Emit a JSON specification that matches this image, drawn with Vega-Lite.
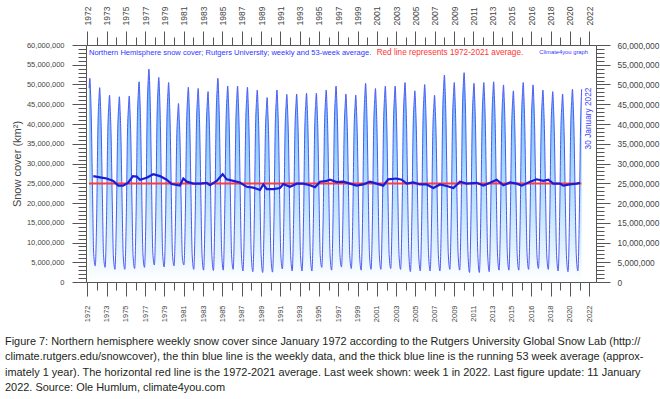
{
  "$schema": "https://vega.github.io/schema/vega-lite/v6.json",
  "autosize": {"type": "none"},
  "width": 510,
  "height": 237,
  "padding": {"left": 86, "top": 45, "right": 64, "bottom": 117},
  "background": "white",
  "title": {
    "text": [
      "Figure 7: Northern hemisphere weekly snow cover since January 1972 according to the Rutgers University Global Snow Lab (http://",
      "climate.rutgers.edu/snowcover), the thin blue line is the weekly data, and the thick blue line is the running 53 week average (approx-",
      "imately 1 year). The horizontal red line is the 1972-2021 average. Last week shown: week 1 in 2022. Last figure update: 11 January",
      "2022. Source: Ole Humlum, climate4you.com"
    ],
    "orient": "bottom",
    "anchor": "start",
    "frame": "group",
    "offset": 14,
    "dx": -81,
    "font": "Liberation Sans",
    "fontSize": 10.95,
    "fontWeight": "normal",
    "color": "#231f20",
    "lineHeight": 15.5
  },
  "datasets": {
    "wk": [
      {"t":1972.02,"v":49.1},{"t":1972.09,"v":51.6},{"t":1972.16,"v":48.1},{"t":1972.24,"v":41.3},{"t":1972.36,"v":23.2},{"t":1972.48,"v":7.2},{"t":1972.64,"v":4.1},{"t":1972.79,"v":17.5},{"t":1972.91,"v":39.4},
      {"t":1973.02,"v":46.7},{"t":1973.09,"v":49.2},{"t":1973.16,"v":45.7},{"t":1973.24,"v":39.4},{"t":1973.36,"v":22.1},{"t":1973.48,"v":6.9},{"t":1973.64,"v":3.7},{"t":1973.79,"v":16.8},{"t":1973.91,"v":37.8},
      {"t":1974.02,"v":44.8},{"t":1974.09,"v":47.3},{"t":1974.16,"v":43.8},{"t":1974.24,"v":37.8},{"t":1974.36,"v":21.3},{"t":1974.48,"v":6.6},{"t":1974.64,"v":3.2},{"t":1974.79,"v":17.2},{"t":1974.91,"v":37.5},
      {"t":1975.02,"v":44.4},{"t":1975.09,"v":46.9},{"t":1975.16,"v":43.4},{"t":1975.24,"v":37.5},{"t":1975.36,"v":21.1},{"t":1975.48,"v":6.6},{"t":1975.64,"v":3.2},{"t":1975.79,"v":16.5},{"t":1975.91,"v":37.7},
      {"t":1976.02,"v":44.6},{"t":1976.09,"v":47.1},{"t":1976.16,"v":43.6},{"t":1976.24,"v":37.7},{"t":1976.36,"v":21.2},{"t":1976.48,"v":6.6},{"t":1976.64,"v":3.4},{"t":1976.79,"v":18.0},{"t":1976.91,"v":40.6},
      {"t":1977.02,"v":48.2},{"t":1977.09,"v":50.7},{"t":1977.16,"v":47.2},{"t":1977.24,"v":40.6},{"t":1977.36,"v":22.8},{"t":1977.48,"v":7.1},{"t":1977.64,"v":3.7},{"t":1977.79,"v":18.4},{"t":1977.91,"v":43.1},
      {"t":1978.02,"v":51.4},{"t":1978.09,"v":53.9},{"t":1978.16,"v":50.4},{"t":1978.24,"v":43.1},{"t":1978.36,"v":24.3},{"t":1978.48,"v":7.5},{"t":1978.64,"v":4.3},{"t":1978.79,"v":17.9},{"t":1978.91,"v":41.4},
      {"t":1979.02,"v":49.3},{"t":1979.09,"v":51.8},{"t":1979.16,"v":48.3},{"t":1979.24,"v":41.4},{"t":1979.36,"v":23.3},{"t":1979.48,"v":7.3},{"t":1979.64,"v":3.8},{"t":1979.79,"v":17.1},{"t":1979.91,"v":40.4},
      {"t":1980.02,"v":48.0},{"t":1980.09,"v":50.5},{"t":1980.16,"v":47.0},{"t":1980.24,"v":40.4},{"t":1980.36,"v":22.7},{"t":1980.48,"v":7.1},{"t":1980.64,"v":4.1},{"t":1980.79,"v":16.2},{"t":1980.91,"v":36.2},
      {"t":1981.02,"v":42.7},{"t":1981.09,"v":45.2},{"t":1981.16,"v":41.7},{"t":1981.24,"v":36.2},{"t":1981.36,"v":20.3},{"t":1981.48,"v":6.3},{"t":1981.64,"v":4.3},{"t":1981.79,"v":17.6},{"t":1981.91,"v":39.4},
      {"t":1982.02,"v":46.8},{"t":1982.09,"v":49.3},{"t":1982.16,"v":45.8},{"t":1982.24,"v":39.4},{"t":1982.36,"v":22.2},{"t":1982.48,"v":6.9},{"t":1982.64,"v":3.2},{"t":1982.79,"v":16.9},{"t":1982.91,"v":39.2},
      {"t":1983.02,"v":46.5},{"t":1983.09,"v":49.0},{"t":1983.16,"v":45.5},{"t":1983.24,"v":39.2},{"t":1983.36,"v":22.1},{"t":1983.48,"v":6.9},{"t":1983.64,"v":3.0},{"t":1983.79,"v":17.3},{"t":1983.91,"v":38.6},
      {"t":1984.02,"v":45.7},{"t":1984.09,"v":48.2},{"t":1984.16,"v":44.7},{"t":1984.24,"v":38.6},{"t":1984.36,"v":21.7},{"t":1984.48,"v":6.7},{"t":1984.64,"v":2.9},{"t":1984.79,"v":18.2},{"t":1984.91,"v":41.3},
      {"t":1985.02,"v":49.1},{"t":1985.09,"v":51.6},{"t":1985.16,"v":48.1},{"t":1985.24,"v":41.3},{"t":1985.36,"v":23.2},{"t":1985.48,"v":7.2},{"t":1985.64,"v":3.0},{"t":1985.79,"v":18.5},{"t":1985.91,"v":39.7},
      {"t":1986.02,"v":47.1},{"t":1986.09,"v":49.6},{"t":1986.16,"v":46.1},{"t":1986.24,"v":39.7},{"t":1986.36,"v":22.3},{"t":1986.48,"v":6.9},{"t":1986.64,"v":3.2},{"t":1986.79,"v":17.0},{"t":1986.91,"v":39.7},
      {"t":1987.02,"v":47.1},{"t":1987.09,"v":49.6},{"t":1987.16,"v":46.1},{"t":1987.24,"v":39.7},{"t":1987.36,"v":22.3},{"t":1987.48,"v":6.9},{"t":1987.64,"v":2.8},{"t":1987.79,"v":16.4},{"t":1987.91,"v":39.4},
      {"t":1988.02,"v":46.8},{"t":1988.09,"v":49.3},{"t":1988.16,"v":45.8},{"t":1988.24,"v":39.4},{"t":1988.36,"v":22.2},{"t":1988.48,"v":6.9},{"t":1988.64,"v":2.6},{"t":1988.79,"v":16.0},{"t":1988.91,"v":38.9},
      {"t":1989.02,"v":46.1},{"t":1989.09,"v":48.6},{"t":1989.16,"v":45.1},{"t":1989.24,"v":38.9},{"t":1989.36,"v":21.9},{"t":1989.48,"v":6.8},{"t":1989.64,"v":2.4},{"t":1989.79,"v":15.8},{"t":1989.91,"v":37.4},
      {"t":1990.02,"v":44.2},{"t":1990.09,"v":46.7},{"t":1990.16,"v":43.2},{"t":1990.24,"v":37.4},{"t":1990.36,"v":21.0},{"t":1990.48,"v":6.5},{"t":1990.64,"v":2.5},{"t":1990.79,"v":16.6},{"t":1990.91,"v":38.9},
      {"t":1991.02,"v":46.1},{"t":1991.09,"v":48.6},{"t":1991.16,"v":45.1},{"t":1991.24,"v":38.9},{"t":1991.36,"v":21.9},{"t":1991.48,"v":6.8},{"t":1991.64,"v":3.3},{"t":1991.79,"v":16.3},{"t":1991.91,"v":38.0},
      {"t":1992.02,"v":45.0},{"t":1992.09,"v":47.5},{"t":1992.16,"v":44.0},{"t":1992.24,"v":38.0},{"t":1992.36,"v":21.4},{"t":1992.48,"v":6.7},{"t":1992.64,"v":2.8},{"t":1992.79,"v":17.2},{"t":1992.91,"v":38.1},
      {"t":1993.02,"v":45.1},{"t":1993.09,"v":47.6},{"t":1993.16,"v":44.1},{"t":1993.24,"v":38.1},{"t":1993.36,"v":21.4},{"t":1993.48,"v":6.7},{"t":1993.64,"v":2.8},{"t":1993.79,"v":16.5},{"t":1993.91,"v":38.2},
      {"t":1994.02,"v":45.3},{"t":1994.09,"v":47.8},{"t":1994.16,"v":44.3},{"t":1994.24,"v":38.2},{"t":1994.36,"v":21.5},{"t":1994.48,"v":6.7},{"t":1994.64,"v":2.8},{"t":1994.79,"v":16.1},{"t":1994.91,"v":38.2},
      {"t":1995.02,"v":45.3},{"t":1995.09,"v":47.8},{"t":1995.16,"v":44.3},{"t":1995.24,"v":38.2},{"t":1995.36,"v":21.5},{"t":1995.48,"v":6.7},{"t":1995.64,"v":3.7},{"t":1995.79,"v":17.8},{"t":1995.91,"v":38.9},
      {"t":1996.02,"v":46.1},{"t":1996.09,"v":48.6},{"t":1996.16,"v":45.1},{"t":1996.24,"v":38.9},{"t":1996.36,"v":21.9},{"t":1996.48,"v":6.8},{"t":1996.64,"v":3.0},{"t":1996.79,"v":17.4},{"t":1996.91,"v":39.7},
      {"t":1997.02,"v":47.1},{"t":1997.09,"v":49.6},{"t":1997.16,"v":46.1},{"t":1997.24,"v":39.7},{"t":1997.36,"v":22.3},{"t":1997.48,"v":6.9},{"t":1997.64,"v":3.8},{"t":1997.79,"v":16.9},{"t":1997.91,"v":38.1},
      {"t":1998.02,"v":45.1},{"t":1998.09,"v":47.6},{"t":1998.16,"v":44.1},{"t":1998.24,"v":38.1},{"t":1998.36,"v":21.4},{"t":1998.48,"v":6.7},{"t":1998.64,"v":3.4},{"t":1998.79,"v":16.6},{"t":1998.91,"v":37.8},
      {"t":1999.02,"v":44.8},{"t":1999.09,"v":47.3},{"t":1999.16,"v":43.8},{"t":1999.24,"v":37.8},{"t":1999.36,"v":21.3},{"t":1999.48,"v":6.6},{"t":1999.64,"v":3.0},{"t":1999.79,"v":17.5},{"t":1999.91,"v":40.2},
      {"t":2000.02,"v":47.8},{"t":2000.09,"v":50.3},{"t":2000.16,"v":46.8},{"t":2000.24,"v":40.2},{"t":2000.36,"v":22.6},{"t":2000.48,"v":7.0},{"t":2000.64,"v":3.2},{"t":2000.79,"v":16.8},{"t":2000.91,"v":39.2},
      {"t":2001.02,"v":46.5},{"t":2001.09,"v":49.0},{"t":2001.16,"v":45.5},{"t":2001.24,"v":39.2},{"t":2001.36,"v":22.1},{"t":2001.48,"v":6.9},{"t":2001.64,"v":3.2},{"t":2001.79,"v":17.4},{"t":2001.91,"v":39.7},
      {"t":2002.02,"v":47.1},{"t":2002.09,"v":49.6},{"t":2002.16,"v":46.1},{"t":2002.24,"v":39.7},{"t":2002.36,"v":22.3},{"t":2002.48,"v":6.9},{"t":2002.64,"v":3.4},{"t":2002.79,"v":18.1},{"t":2002.91,"v":39.7},
      {"t":2003.02,"v":47.1},{"t":2003.09,"v":49.6},{"t":2003.16,"v":46.1},{"t":2003.24,"v":39.7},{"t":2003.36,"v":22.3},{"t":2003.48,"v":6.9},{"t":2003.64,"v":3.2},{"t":2003.79,"v":17.6},{"t":2003.91,"v":40.4},
      {"t":2004.02,"v":48.0},{"t":2004.09,"v":50.5},{"t":2004.16,"v":47.0},{"t":2004.24,"v":40.4},{"t":2004.36,"v":22.7},{"t":2004.48,"v":7.1},{"t":2004.64,"v":2.6},{"t":2004.79,"v":16.7},{"t":2004.91,"v":38.7},
      {"t":2005.02,"v":45.9},{"t":2005.09,"v":48.4},{"t":2005.16,"v":44.9},{"t":2005.24,"v":38.7},{"t":2005.36,"v":21.8},{"t":2005.48,"v":6.8},{"t":2005.64,"v":2.8},{"t":2005.79,"v":16.9},{"t":2005.91,"v":40.0},
      {"t":2006.02,"v":47.5},{"t":2006.09,"v":50.0},{"t":2006.16,"v":46.5},{"t":2006.24,"v":40.0},{"t":2006.36,"v":22.5},{"t":2006.48,"v":7.0},{"t":2006.64,"v":2.8},{"t":2006.79,"v":16.2},{"t":2006.91,"v":37.8},
      {"t":2007.02,"v":44.8},{"t":2007.09,"v":47.3},{"t":2007.16,"v":43.8},{"t":2007.24,"v":37.8},{"t":2007.36,"v":21.3},{"t":2007.48,"v":6.6},{"t":2007.64,"v":2.8},{"t":2007.79,"v":17.9},{"t":2007.91,"v":41.9},
      {"t":2008.02,"v":49.9},{"t":2008.09,"v":52.4},{"t":2008.16,"v":48.9},{"t":2008.24,"v":41.9},{"t":2008.36,"v":23.6},{"t":2008.48,"v":7.3},{"t":2008.64,"v":3.2},{"t":2008.79,"v":17.8},{"t":2008.91,"v":40.4},
      {"t":2009.02,"v":48.0},{"t":2009.09,"v":50.5},{"t":2009.16,"v":47.0},{"t":2009.24,"v":40.4},{"t":2009.36,"v":22.7},{"t":2009.48,"v":7.1},{"t":2009.64,"v":3.0},{"t":2009.79,"v":18.3},{"t":2009.91,"v":42.4},
      {"t":2010.02,"v":50.5},{"t":2010.09,"v":53.0},{"t":2010.16,"v":49.5},{"t":2010.24,"v":42.4},{"t":2010.36,"v":23.9},{"t":2010.48,"v":7.4},{"t":2010.64,"v":2.4},{"t":2010.79,"v":17.1},{"t":2010.91,"v":40.2},
      {"t":2011.02,"v":47.8},{"t":2011.09,"v":50.3},{"t":2011.16,"v":46.8},{"t":2011.24,"v":40.2},{"t":2011.36,"v":22.6},{"t":2011.48,"v":7.0},{"t":2011.64,"v":2.4},{"t":2011.79,"v":17.7},{"t":2011.91,"v":40.4},
      {"t":2012.02,"v":48.0},{"t":2012.09,"v":50.5},{"t":2012.16,"v":47.0},{"t":2012.24,"v":40.4},{"t":2012.36,"v":22.7},{"t":2012.48,"v":7.1},{"t":2012.64,"v":2.6},{"t":2012.79,"v":17.9},{"t":2012.91,"v":40.6},
      {"t":2013.02,"v":48.2},{"t":2013.09,"v":50.7},{"t":2013.16,"v":47.2},{"t":2013.24,"v":40.6},{"t":2013.36,"v":22.8},{"t":2013.48,"v":7.1},{"t":2013.64,"v":3.0},{"t":2013.79,"v":17.3},{"t":2013.91,"v":39.9},
      {"t":2014.02,"v":47.4},{"t":2014.09,"v":49.9},{"t":2014.16,"v":46.4},{"t":2014.24,"v":39.9},{"t":2014.36,"v":22.5},{"t":2014.48,"v":7.0},{"t":2014.64,"v":3.0},{"t":2014.79,"v":18.0},{"t":2014.91,"v":38.7},
      {"t":2015.02,"v":45.9},{"t":2015.09,"v":48.4},{"t":2015.16,"v":44.9},{"t":2015.24,"v":38.7},{"t":2015.36,"v":21.8},{"t":2015.48,"v":6.8},{"t":2015.64,"v":3.0},{"t":2015.79,"v":17.0},{"t":2015.91,"v":40.4},
      {"t":2016.02,"v":48.0},{"t":2016.09,"v":50.5},{"t":2016.16,"v":47.0},{"t":2016.24,"v":40.4},{"t":2016.36,"v":22.7},{"t":2016.48,"v":7.1},{"t":2016.64,"v":3.2},{"t":2016.79,"v":17.6},{"t":2016.91,"v":39.9},
      {"t":2017.02,"v":47.4},{"t":2017.09,"v":49.9},{"t":2017.16,"v":46.4},{"t":2017.24,"v":39.9},{"t":2017.36,"v":22.5},{"t":2017.48,"v":7.0},{"t":2017.64,"v":3.4},{"t":2017.79,"v":17.9},{"t":2017.91,"v":38.9},
      {"t":2018.02,"v":46.1},{"t":2018.09,"v":48.6},{"t":2018.16,"v":45.1},{"t":2018.24,"v":38.9},{"t":2018.36,"v":21.9},{"t":2018.48,"v":6.8},{"t":2018.64,"v":3.2},{"t":2018.79,"v":17.2},{"t":2018.91,"v":38.6},
      {"t":2019.02,"v":45.7},{"t":2019.09,"v":48.2},{"t":2019.16,"v":44.7},{"t":2019.24,"v":38.6},{"t":2019.36,"v":21.7},{"t":2019.48,"v":6.7},{"t":2019.64,"v":2.8},{"t":2019.79,"v":16.6},{"t":2019.91,"v":38.1},
      {"t":2020.02,"v":45.1},{"t":2020.09,"v":47.6},{"t":2020.16,"v":44.1},{"t":2020.24,"v":38.1},{"t":2020.36,"v":21.4},{"t":2020.48,"v":6.7},{"t":2020.64,"v":2.6},{"t":2020.79,"v":16.5},{"t":2020.91,"v":39.0},
      {"t":2021.02,"v":46.3},{"t":2021.09,"v":48.8},{"t":2021.16,"v":45.3},{"t":2021.24,"v":39.0},{"t":2021.36,"v":22.0},{"t":2021.48,"v":6.8},{"t":2021.64,"v":2.8},{"t":2021.79,"v":17.3},{"t":2021.91,"v":39.0},
      {"t":2022.02,"v":48.8}
    ],
    "avg": [
      {"t":1972.44,"v":26.8},{"t":1973.12,"v":26.5},{"t":1973.80,"v":26.2},{"t":1974.47,"v":25.6},{"t":1974.98,"v":24.4},{"t":1975.46,"v":24.4},{"t":1975.96,"v":25.1},{"t":1976.47,"v":26.8},{"t":1976.85,"v":26.7},{"t":1977.18,"v":25.9},
      {"t":1977.86,"v":26.4},{"t":1978.53,"v":27.3},{"t":1979.21,"v":26.8},{"t":1979.89,"v":25.9},{"t":1980.40,"v":24.8},{"t":1981.24,"v":24.4},{"t":1981.58,"v":26.2},{"t":1981.92,"v":25.4},{"t":1982.59,"v":24.9},{"t":1983.27,"v":24.9},
      {"t":1983.95,"v":25.1},{"t":1984.29,"v":24.5},{"t":1984.97,"v":25.6},{"t":1985.58,"v":27.3},{"t":1985.98,"v":26.0},{"t":1986.65,"v":25.6},{"t":1987.33,"v":25.2},{"t":1988.01,"v":24.1},{"t":1988.68,"v":23.9},{"t":1989.37,"v":23.3},
      {"t":1989.70,"v":24.7},{"t":1990.05,"v":23.5},{"t":1990.72,"v":23.5},{"t":1991.40,"v":23.8},{"t":1991.73,"v":24.8},{"t":1992.41,"v":24.1},{"t":1993.09,"v":24.9},{"t":1993.76,"v":24.9},{"t":1994.44,"v":24.5},{"t":1994.95,"v":24.0},
      {"t":1995.46,"v":25.4},{"t":1996.14,"v":25.6},{"t":1996.47,"v":25.9},{"t":1997.15,"v":25.3},{"t":1997.82,"v":25.4},{"t":1998.50,"v":24.9},{"t":1999.18,"v":24.4},{"t":1999.85,"v":24.7},{"t":2000.53,"v":25.4},{"t":2001.21,"v":24.9},
      {"t":2001.88,"v":24.4},{"t":2002.39,"v":26.0},{"t":2003.24,"v":26.2},{"t":2003.75,"v":25.9},{"t":2004.26,"v":24.9},{"t":2004.93,"v":25.2},{"t":2005.61,"v":24.7},{"t":2006.29,"v":24.7},{"t":2006.96,"v":23.8},{"t":2007.64,"v":24.7},
      {"t":2008.32,"v":24.3},{"t":2009.00,"v":23.8},{"t":2009.67,"v":25.4},{"t":2010.35,"v":24.9},{"t":2011.37,"v":25.1},{"t":2012.04,"v":24.4},{"t":2012.72,"v":25.1},{"t":2013.40,"v":25.9},{"t":2014.07,"v":24.5},{"t":2014.75,"v":25.2},
      {"t":2015.43,"v":24.9},{"t":2015.94,"v":24.4},{"t":2016.78,"v":25.4},{"t":2017.46,"v":26.0},{"t":2018.13,"v":25.6},{"t":2018.64,"v":25.9},{"t":2019.14,"v":24.9},{"t":2019.82,"v":24.9},{"t":2020.16,"v":24.4},{"t":2020.84,"v":24.7},
      {"t":2021.52,"v":24.9},{"t":2021.85,"v":25.1}
    ],
    "ref": [{"start":1972.0,"end":2022.0,"mean":24.95}]
  },
  "layer": [
    {
      "data": {"name": "wk"},
      "mark": {"type": "area", "interpolate": "monotone", "fill": {"gradient": "linear", "x1": 0, "y1": 0, "x2": 0, "y2": 1, "stops": [{"offset": 0, "color": "#58b2ff"}, {"offset": 0.45, "color": "#a2d8ff"}, {"offset": 0.85, "color": "#e2f3ff"}, {"offset": 1, "color": "#ffffff"}]}},
      "encoding": {
        "x": {"field": "t", "type": "quantitative", "scale": {"domain": [1971.70, 2023.48], "nice": false, "zero": false},
          "axis": {"orient": "bottom", "title": null, "values": [1971.83,1973.79,1975.75,1977.71,1979.67,1981.63,1983.59,1985.55,1987.51,1989.47,1991.43,1993.39,1995.35,1997.31,1999.27,2001.23,2003.19,2005.15,2007.11,2009.07,2011.03,2012.99,2014.95,2016.91,2018.87,2020.83,2022.79],
            "labelExpr": "['1972','1973','1975','1977','1979','1981','1983','1985','1987','1989','1991','1993','1995','1997','1999','2001','2003','2005','2007','2009','2011','2013','2015','2016','2018','2020','2022'][round((datum.value-1971.83)/1.96)]",
            "labelAngle": 270, "labelFontSize": 7.5, "tickSize": 14, "labelPadding": 9}},
        "y": {"field": "v", "type": "quantitative", "scale": {"domain": [0, 60], "nice": false, "zero": true},
          "axis": {"orient": "left", "title": "Snow cover (km²)", "values": [0,5,10,15,20,25,30,35,40,45,50,55,60],
            "labelExpr": "format(datum.value*1000000, ',d')", "labelFontSize": 7.5, "tickSize": 14, "labelPadding": 8,
            "titleFontSize": 11, "titleFontWeight": "normal", "titleColor": "#444444", "titlePadding": 4}}
      }
    },
    {
      "data": {"name": "wk"},
      "mark": {"type": "line", "interpolate": "monotone", "color": "#4a5af2", "strokeWidth": 1},
      "encoding": {
        "x": {"field": "t", "type": "quantitative", "scale": {"domain": [1971.70, 2023.48], "nice": false, "zero": false},
          "axis": {"orient": "top", "title": null, "values": [1971.83,1973.79,1975.75,1977.71,1979.67,1981.63,1983.59,1985.55,1987.51,1989.47,1991.43,1993.39,1995.35,1997.31,1999.27,2001.23,2003.19,2005.15,2007.11,2009.07,2011.03,2012.99,2014.95,2016.91,2018.87,2020.83,2022.79],
            "labelExpr": "['1972','1973','1975','1977','1979','1981','1983','1985','1987','1989','1991','1993','1995','1997','1999','2001','2003','2005','2007','2009','2011','2013','2015','2016','2018','2020','2022'][round((datum.value-1971.83)/1.96)]",
            "labelAngle": 270, "labelFontSize": 8.5, "tickSize": 14, "labelPadding": 6}},
        "y": {"field": "v", "type": "quantitative", "scale": {"domain": [0, 60], "nice": false, "zero": true},
          "axis": {"orient": "right", "title": null, "values": [0,5,10,15,20,25,30,35,40,45,50,55,60],
            "labelExpr": "format(datum.value*1000000, ',d')", "labelFontSize": 8.4, "tickSize": 14, "labelPadding": 7}}
      }
    },
    {
      "data": {"name": "ref"},
      "mark": {"type": "rule", "color": "#ff3b3b", "strokeWidth": 2},
      "encoding": {
        "x": {"field": "start", "type": "quantitative", "scale": {"domain": [1971.70, 2023.48], "nice": false, "zero": false},
          "axis": {"orient": "bottom", "title": null, "labels": false, "domain": false, "tickSize": 8, "values": [1972.81,1974.77,1976.73,1978.69,1980.65,1982.61,1984.57,1986.53,1988.49,1990.45,1992.41,1994.37,1996.33,1998.29,2000.25,2002.21,2004.17,2006.13,2008.09,2010.05,2012.01,2013.97,2015.93,2017.89,2019.85,2021.81]}},
        "x2": {"field": "end"},
        "y": {"field": "mean", "type": "quantitative", "scale": {"domain": [0, 60], "nice": false, "zero": true},
          "axis": {"orient": "left", "title": null, "labels": false, "domain": false, "tickSize": 8, "values": [1,2,3,4,6,7,8,9,11,12,13,14,16,17,18,19,21,22,23,24,26,27,28,29,31,32,33,34,36,37,38,39,41,42,43,44,46,47,48,49,51,52,53,54,56,57,58,59]}}
      }
    },
    {
      "data": {"name": "avg"},
      "mark": {"type": "line", "color": "#1c1cd6", "strokeWidth": 2.2},
      "encoding": {
        "x": {"field": "t", "type": "quantitative", "scale": {"domain": [1971.70, 2023.48], "nice": false, "zero": false},
          "axis": {"orient": "top", "title": null, "labels": false, "domain": false, "tickSize": 8, "values": [1972.81,1974.77,1976.73,1978.69,1980.65,1982.61,1984.57,1986.53,1988.49,1990.45,1992.41,1994.37,1996.33,1998.29,2000.25,2002.21,2004.17,2006.13,2008.09,2010.05,2012.01,2013.97,2015.93,2017.89,2019.85,2021.81]}},
        "y": {"field": "v", "type": "quantitative", "scale": {"domain": [0, 60], "nice": false, "zero": true},
          "axis": {"orient": "right", "title": null, "labels": false, "domain": false, "tickSize": 8, "values": [1,2,3,4,6,7,8,9,11,12,13,14,16,17,18,19,21,22,23,24,26,27,28,29,31,32,33,34,36,37,38,39,41,42,43,44,46,47,48,49,51,52,53,54,56,57,58,59]}}
      }
    },
    {
      "data": {"values": [{}]},
      "mark": {"type": "text", "align": "left", "baseline": "middle", "fontSize": 7.55, "font": "Liberation Sans", "color": "#3434ff"},
      "encoding": {
        "x": {"datum": 1972.0, "type": "quantitative", "axis": null},
        "y": {"datum": 57.9, "type": "quantitative", "axis": null},
        "text": {"value": "Northern Hemisphere snow cover; Rutgers University; weekly and 53-week average."}
      }
    },
    {
      "data": {"values": [{}]},
      "mark": {"type": "text", "align": "left", "baseline": "middle", "fontSize": 8.2, "font": "Liberation Sans", "color": "#ff3434"},
      "encoding": {
        "x": {"datum": 2001.21, "type": "quantitative", "axis": null},
        "y": {"datum": 57.9, "type": "quantitative", "axis": null},
        "text": {"value": "Red line represents 1972-2021 average."}
      }
    },
    {
      "data": {"values": [{}]},
      "mark": {"type": "text", "align": "right", "baseline": "middle", "fontSize": 5.8, "font": "Liberation Sans", "color": "#3434ff"},
      "encoding": {
        "x": {"datum": 2022.67, "type": "quantitative", "axis": null},
        "y": {"datum": 58.3, "type": "quantitative", "axis": null},
        "text": {"value": "Climate4you graph"}
      }
    },
    {
      "data": {"values": [{}]},
      "mark": {"type": "text", "align": "center", "baseline": "middle", "angle": 270, "fontSize": 8.3, "font": "Liberation Sans", "color": "#4040ff"},
      "encoding": {
        "x": {"datum": 2022.77, "type": "quantitative", "axis": null},
        "y": {"datum": 41.4, "type": "quantitative", "axis": null},
        "text": {"value": "30 January 2022"}
      }
    }
  ],
  "resolve": {"scale": {"x": "shared", "y": "shared"}, "axis": {"x": "independent", "y": "independent"}},
  "config": {
    "view": {"stroke": null},
    "axis": {"grid": false, "labelFont": "Liberation Sans", "titleFont": "Liberation Sans", "labelFlush": false, "labelOverlap": false, "domainColor": "#555555", "tickColor": "#555555", "labelColor": "#444444", "domainWidth": 1, "tickWidth": 1}
  }
}
